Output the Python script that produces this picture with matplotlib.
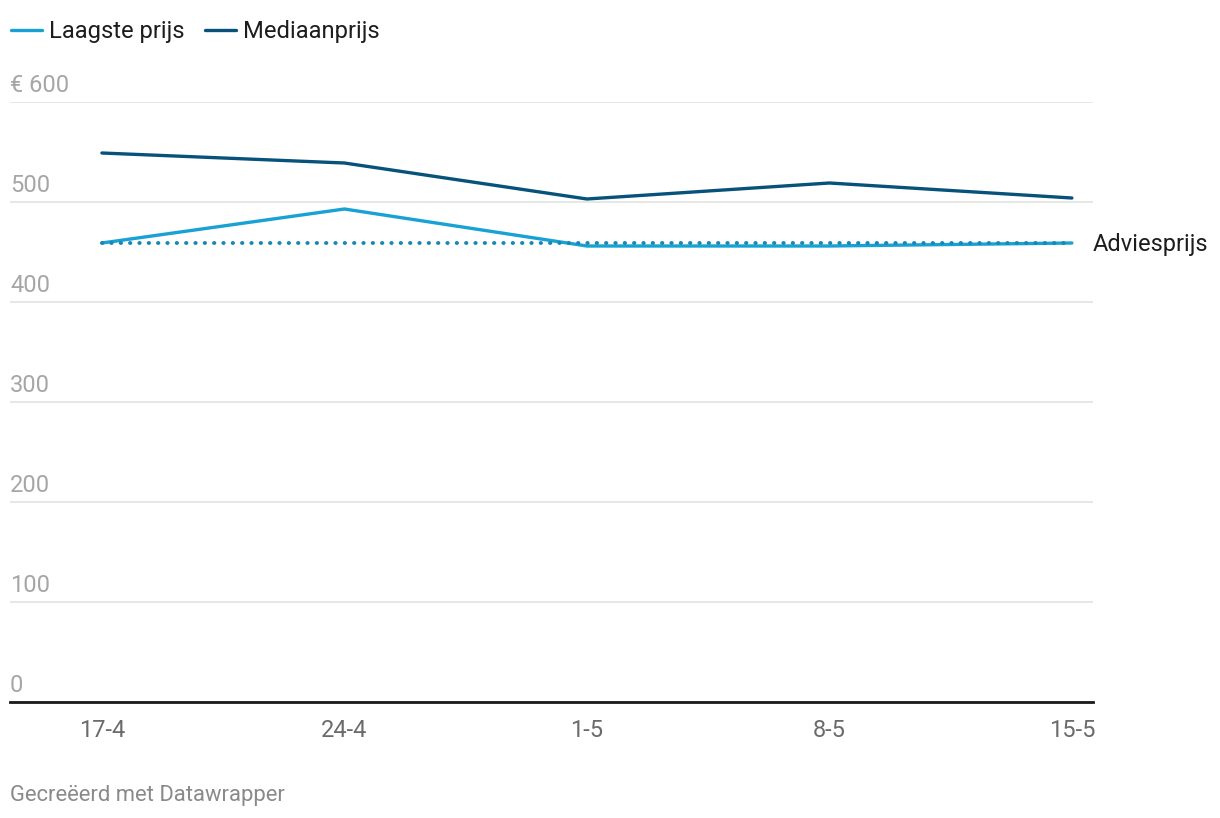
import matplotlib.pyplot as plt
import matplotlib.transforms as mtransforms

plt.rcParams['font.family'] = ['Roboto', 'DejaVu Sans']

dates = ['17-4', '24-4', '1-5', '8-5', '15-5']
laagste = [459, 493, 456, 456, 459]
mediaan = [549, 539, 503, 519, 504]
advies = [459, 459, 459, 459, 459]
yticks = [0, 100, 200, 300, 400, 500, 600]
ylabels = ['0', '100', '200', '300', '400', '500', '€ 600']

c_light = '#18a1d3'
c_dark = '#06527a'
c_advies = '#1a86b8'

W, H = 1220, 818
fig = plt.figure(figsize=(W / 100, H / 100), dpi=100)
ax = fig.add_axes([10 / W, 1 - 702 / H, (1093 - 10) / W, 600 / H])

x = list(range(len(dates)))
ax.plot(x, advies, color=c_advies, lw=2.8, linestyle=(0, (0.1, 2.3)),
        dash_capstyle='round', zorder=3, clip_on=False)
ax.plot(x, laagste, color=c_light, lw=2.4, zorder=2, label='Laagste prijs',
        solid_capstyle='round', clip_on=False)
ax.plot(x, mediaan, color=c_dark, lw=2.4, zorder=2, label='Mediaanprijs',
        solid_capstyle='round', clip_on=False)

ax.set_xlim(-0.379, 4.087)
ax.set_ylim(0, 600)

for s in ['top', 'right', 'left']:
    ax.spines[s].set_visible(False)
ax.spines['bottom'].set_color('#1a1a1a')
ax.spines['bottom'].set_linewidth(2)
ax.spines['bottom'].set_zorder(4)

ax.set_yticks(yticks)
ax.set_yticklabels([])
ax.tick_params(axis='y', length=0)
ax.grid(axis='y', color='#e3e3e3', lw=1.2)
ax.set_axisbelow(True)

trans = mtransforms.blended_transform_factory(ax.transAxes, ax.transData)
off = mtransforms.offset_copy(trans, fig=fig, x=0, y=5, units='dots')
for v, lab in zip(yticks, ylabels):
    ax.text(0, v, lab, transform=off, ha='left', va='bottom',
            fontsize=17, color='#a6a6a6')

ax.set_xticks(x)
ax.set_xticklabels(dates, fontsize=17, color='#6b6b6b')
ax.tick_params(axis='x', length=0, pad=12)

off2 = mtransforms.offset_copy(trans, fig=fig, x=0, y=-2, units='dots')
ax.text(1.0, advies[-1], 'Adviesprijs', transform=off2, ha='left', va='center',
        fontsize=17, color='#1d1d1d')

fig.legend(loc='upper left', bbox_to_anchor=(11 / W, 1 - 20 / H), ncol=2,
           frameon=False, fontsize=17.1, handlelength=1.3, handletextpad=0.3,
           columnspacing=0.85, borderaxespad=0, borderpad=0,
           labelcolor='#1d1d1d')

fig.text(10 / W, 1 - 795 / H, 'Gecreëerd met Datawrapper', ha='left',
         va='center', fontsize=15.8, color='#8a8a8a')

fig.savefig('out.png', dpi=100)
